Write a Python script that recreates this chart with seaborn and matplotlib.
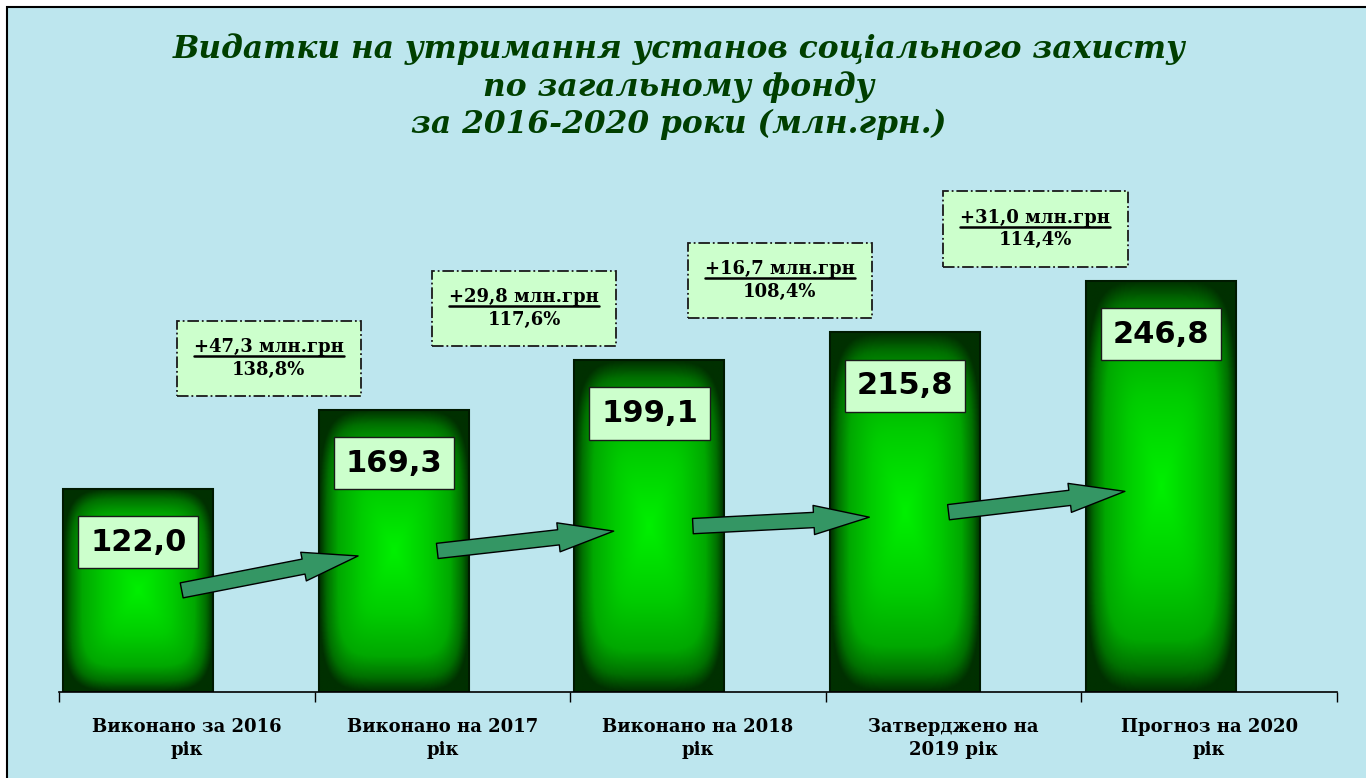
import numpy as np
import pandas as pd
import matplotlib
matplotlib.use("Agg")
import matplotlib.pyplot as plt
import seaborn as sns
from matplotlib.patches import Rectangle, FancyArrowPatch
from matplotlib.lines import Line2D
from matplotlib.colors import LinearSegmentedColormap

# Data
categories = ['Виконано за 2016\nрік', 'Виконано на 2017\nрік', 'Виконано на 2018\nрік',
              'Затверджено на\n2019 рік', 'Прогноз на 2020\nрік']
values = [122.0, 169.3, 199.1, 215.8, 246.8]
growth_abs = [47.3, 29.8, 16.7, 31.0]
growth_pct = [138.8, 117.6, 108.4, 114.4]

title = ('Видатки на утримання установ соціального захисту\n'
         'по загальному фонду\n'
         'за 2016-2020 роки (млн.грн.)')


def ua(num, fmt="{:.1f}"):
    return fmt.format(num).replace('.', ',')


sns.set_style("white")
plt.rcParams['font.family'] = ['DejaVu Sans']
plt.rcParams['text.color'] = 'black'
plt.rcParams['xtick.color'] = 'black'

fig = plt.figure(figsize=(13.66, 7.78), dpi=100)
fig.patch.set_facecolor('white')

# background panel with black frame (left/top visible)
bg = Rectangle((7 / 1366, -0.02), 1.05, 1.02 - 7 / 778, transform=fig.transFigure,
               facecolor='#bde6ee', edgecolor='black', linewidth=1.5, zorder=-10)
fig.patches.append(bg)

ax = fig.add_axes([0.0432, 0.1105, 0.9356, 0.6427])
ax.set_facecolor('none')

df = pd.DataFrame({'cat': categories, 'val': values})
sns.barplot(data=df, x='cat', y='val', ax=ax, width=0.587, color='#006600',
            edgecolor='#001a00', linewidth=1.5, errorbar=None)

# gradient fill for bars
cmap = LinearSegmentedColormap.from_list('bar', [(0.0, '#00f000'), (0.45, '#00cc00'),
                                                  (0.75, '#00a800'), (0.9, '#007000'),
                                                  (1.0, '#003000')])
u = np.linspace(-1, 1, 120)
v = np.linspace(-1, 1, 240)
U, V = np.meshgrid(u, v)
grad = (np.abs(U) ** 5 + np.abs(V) ** 5) ** 0.2
grad = np.clip(grad, 0, 1)

for p in ax.patches:
    p.set_x(p.get_x() - 0.19)
    x0, y0, w, h = p.get_x(), p.get_y(), p.get_width(), p.get_height()
    im = ax.imshow(grad, cmap=cmap, vmin=0, vmax=1, extent=(x0, x0 + w, y0, y0 + h),
                   aspect='auto', origin='lower', zorder=2, interpolation='bilinear')
    im.set_clip_path(p)
    p.set_facecolor('none')
    p.set_zorder(3)

ax.set_xlim(-0.5, 4.5)
ax.set_ylim(0, 300)

# value labels inside bars
for i, val in enumerate(values):
    ax.text(i - 0.19, val - 32, ua(val), ha='center', va='center', fontsize=22,
            fontweight='bold', color='black', zorder=6,
            bbox=dict(boxstyle='square,pad=0.38', fc='#ccffcc', ec='#1a1a1a', lw=1))

# arrows between bars
for i in range(len(values) - 1):
    arr = FancyArrowPatch((i - 0.02, values[i] / 2), (i + 0.67, values[i + 1] / 2 - 3),
                          arrowstyle='simple,head_length=40,head_width=21,tail_width=11',
                          mutation_scale=1, shrinkA=0, shrinkB=0,
                          fc='#349664', ec='black', lw=1, zorder=5)
    ax.add_patch(arr)

# growth annotation boxes
ann_fs = 13
ann = []
for i in range(len(growth_abs)):
    line1 = '+' + ua(growth_abs[i]) + ' млн.грн'
    line2 = ua(growth_pct[i]) + '%'
    t = ax.text(i + 0.32, values[i + 1] + 31, line1 + '\n' + line2, ha='center', va='center',
                fontsize=ann_fs, fontweight='bold', family='DejaVu Serif', linespacing=1.35,
                color='black', zorder=6, clip_on=False,
                bbox=dict(boxstyle='square,pad=0.95', fc='#ccffcc', ec='#1a1a1a', lw=1.3,
                          ls='-.'))
    ann.append((t, line1))

# axis styling
ax.set_xlabel('')
ax.set_ylabel('')
ax.set_yticks([])
for s in ['left', 'right', 'top']:
    ax.spines[s].set_visible(False)
ax.spines['bottom'].set_color('black')
ax.spines['bottom'].set_linewidth(1.2)
ax.spines['bottom'].set_zorder(4)
ax.set_xticks(range(len(categories)))
ax.set_xticklabels(categories, fontsize=13, fontweight='bold', family='DejaVu Serif',
                   linespacing=1.35, color='black')
ax.set_xticks(np.arange(-0.5, len(categories)), minor=True)
ax.tick_params(axis='x', which='major', bottom=True, length=0, pad=19)
ax.tick_params(axis='x', which='minor', bottom=True, length=7, width=1, color='black',
               direction='out')

fig.text(0.497, 0.889, title, ha='center', va='center', fontsize=22.5, fontweight='bold',
         fontstyle='italic', family='DejaVu Serif', color='#003f00', linespacing=1.25)

# underline first line of annotation boxes
fig.canvas.draw()
renderer = fig.canvas.get_renderer()
for t, line1 in ann:
    bb = t.get_window_extent(renderer)
    w1, h1, d1 = renderer.get_text_width_height_descent(line1, t.get_fontproperties(), ismath=False)
    base1 = bb.y1 - (h1 - d1)
    yl = base1 - 4
    xc = (bb.x0 + bb.x1) / 2
    (fx0, fy), (fx1, _) = fig.transFigure.inverted().transform([(xc - w1 / 2, yl), (xc + w1 / 2, yl)])
    fig.lines.append(Line2D([fx0, fx1], [fy, fy], transform=fig.transFigure, color='black',
                            lw=1.8, zorder=10))

fig.savefig('out.png', dpi=100)
